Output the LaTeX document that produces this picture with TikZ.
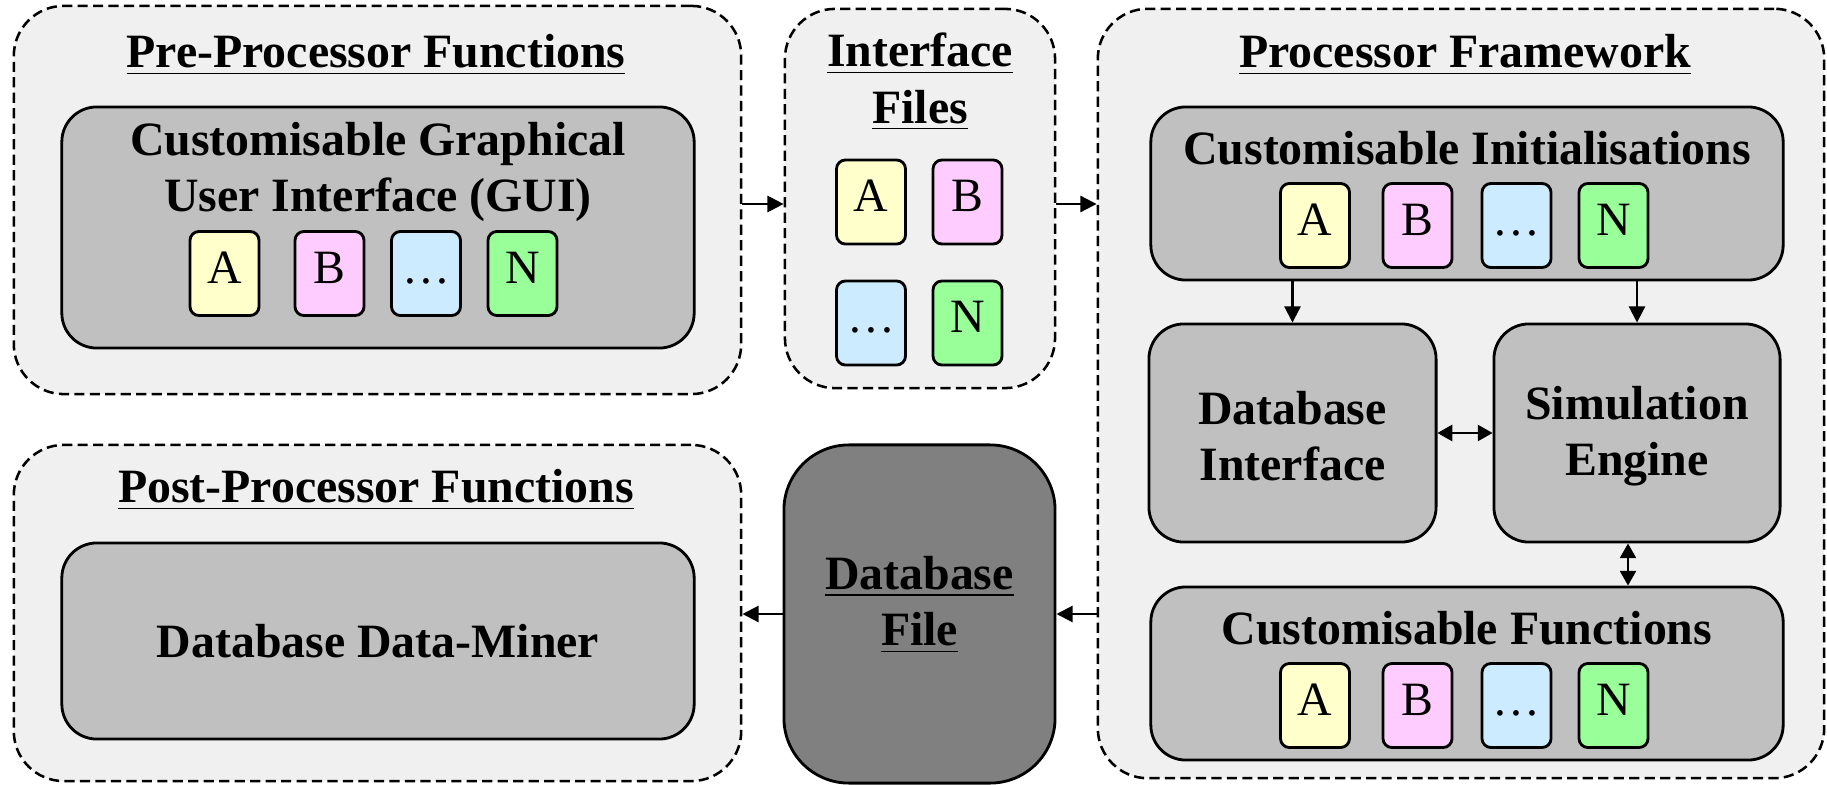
\documentclass[tikz,border=0pt]{standalone}
\usepackage{fontspec}
\setmainfont{Liberation Serif}
\usetikzlibrary{arrows.meta}
\definecolor{panelgrey}{HTML}{F0F0F0}
\definecolor{blockgrey}{HTML}{C0C0C0}
\definecolor{filegrey}{HTML}{808080}
\definecolor{tagA}{HTML}{FFFFCC}
\definecolor{tagB}{HTML}{FFCCFF}
\definecolor{tagC}{HTML}{CCEBFF}
\definecolor{tagN}{HTML}{99FF99}
\begin{document}
\begin{tikzpicture}[x=0.01cm, y=-0.01cm,
  panel/.style={draw, dash pattern=on 2.9pt off 1.5pt, line width=0.72pt, fill=panelgrey, rounded corners=0.5cm},
  block/.style={draw, line width=0.8pt, fill=blockgrey, rounded corners=0.35cm},
  tag/.style={draw, line width=0.8pt, rounded corners=0.09cm, minimum width=0.69cm, minimum height=0.84cm, inner sep=0pt, text height=9.5pt, text depth=4pt, font=\fontsize{13.6}{16}\selectfont},
  heading/.style={font=\fontsize{13.6}{16}\selectfont\bfseries, align=center},
  arr/.style={-{Triangle[length=4.6pt,width=4.6pt]}, line width=0.6pt},
  darr/.style={{Triangle[length=4.2pt,width=4.6pt]}-{Triangle[length=4.2pt,width=4.6pt]}, line width=0.6pt}]
\useasboundingbox (0,0) rectangle (1827,785);

% pre-processor
\node[panel, minimum width=7.27cm, minimum height=3.88cm] (pre) at (377.5,200) {};
\node[heading] (pretitle) at (376,55) {\underline{Pre-Processor Functions}};
\node[block, minimum width=6.32cm, minimum height=2.41cm] (gui) at (378,227.5) {};
\node[heading] (guitext) at (378,172) {Customisable Graphical\\User Interface (GUI)};
\foreach \lbl/\col/\xx [count=\i] in {A/tagA/224.5, B/tagB/329.5, …/tagC/426, N/tagN/522.5}
  \node[tag, fill=\col] (gui\i) at (\xx,273.5) {\lbl};

% interface files
\node[panel, minimum width=2.70cm, minimum height=3.79cm] (iface) at (920,198.5) {};
\node[heading] (ifacetitle) at (920,82) {\underline{Interface}\\\underline{Files}};
\node[tag, fill=tagA] (if1) at (871,202) {A};
\node[tag, fill=tagB] (if2) at (967.5,202) {B};
\node[tag, fill=tagC] (if3) at (871,323) {…};
\node[tag, fill=tagN] (if4) at (967.5,323) {N};

% processor framework
\node[panel, minimum width=7.26cm, minimum height=7.69cm] (proc) at (1461,393.5) {};
\node[heading] (proctitle) at (1465,55) {\underline{Processor Framework}};
\node[block, minimum width=6.32cm, minimum height=1.73cm] (init) at (1467,193.5) {};
\node[heading] (inittext) at (1467,148) {Customisable Initialisations};
\foreach \lbl/\col/\xx [count=\i] in {A/tagA/1315, B/tagB/1417.5, …/tagC/1516.5, N/tagN/1613.5}
  \node[tag, fill=\col] (init\i) at (\xx,225.5) {\lbl};
\node[block, minimum width=2.87cm, minimum height=2.18cm] (dbif) at (1292.5,433) {};
\node[heading] (dbiftext) at (1292.5,436) {Database\\Interface};
\node[block, minimum width=2.86cm, minimum height=2.18cm] (sim) at (1637,433) {};
\node[heading] (simtext) at (1637,436) {Simulation\\Engine};
\node[block, minimum width=6.32cm, minimum height=1.73cm] (func) at (1467,673.5) {};
\node[heading] (functext) at (1467,628) {Customisable Functions};
\foreach \lbl/\col/\xx [count=\i] in {A/tagA/1315, B/tagB/1417.5, …/tagC/1516.5, N/tagN/1613.5}
  \node[tag, fill=\col] (func\i) at (\xx,705.5) {\lbl};

% post-processor
\node[panel, minimum width=7.27cm, minimum height=3.36cm] (post) at (377.5,613) {};
\node[heading] (posttitle) at (376,490) {\underline{Post-Processor Functions}};
\node[block, minimum width=6.32cm, minimum height=1.96cm] (miner) at (378,641) {};
\node[heading] (minertext) at (378,641) {Database Data-Miner};

% database file
\node[draw, line width=0.8pt, fill=filegrey, rounded corners=0.65cm, minimum width=2.71cm, minimum height=3.38cm] (dbfile) at (919.5,614) {};
\node[heading] (dbfiletext) at (919.5,605) {\underline{Database}\\\underline{File}};

% connectors
\draw[arr] ([yshift=-0.04cm]pre.east) -- ([yshift=-0.04cm]pre.east -| iface.west);
\draw[arr] ([yshift=-0.055cm]iface.east) -- ([yshift=-0.055cm]iface.east -| proc.west);
\draw[arr] (init.south -| dbif) -- (dbif.north);
\draw[arr] (init.south -| sim) -- (sim.north);
\draw[darr] (dbif.east) -- (sim.west);
\draw[darr] ([xshift=-0.09cm]sim.south) -- ([xshift=-0.09cm]sim.south |- func.north);
\draw[arr] (proc.west |- dbfile) -- (dbfile.east);
\draw[arr] (dbfile.west) -- (post.east |- dbfile);
\end{tikzpicture}
\end{document}
